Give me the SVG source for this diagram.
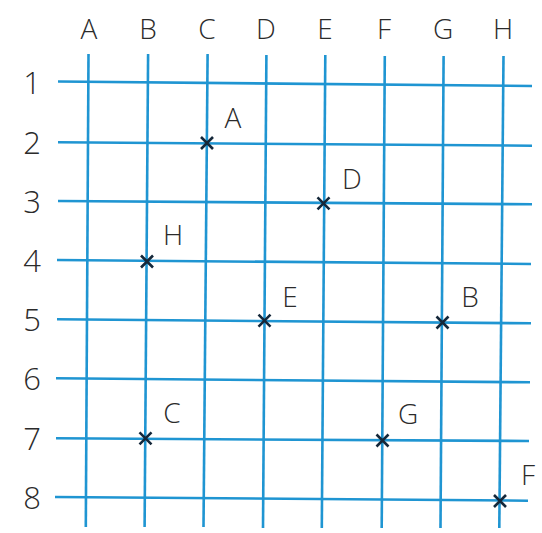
<svg xmlns="http://www.w3.org/2000/svg" width="542" height="533" viewBox="0 0 542 533">
<style>
.grid line{stroke:#1f95d2;stroke-width:2.6;stroke-linecap:butt}
.mk path{stroke:#15283a;stroke-width:2.6;fill:none;stroke-linecap:round}
text{font-family:"Open Sans","Liberation Sans",sans-serif;font-weight:300;fill:#2b2b2b;text-anchor:middle}
.col{font-size:28px}
.row{font-size:31px}
.pt{font-size:28px}
</style>
<defs>
<path id="x" d="M-6,-6L6,6M-6,6L6,-6"/>
</defs>
<rect width="542" height="533" fill="#ffffff"/>
<g id="connectors" class="grid">
<line x1="58" y1="81.5" x2="532" y2="86"/>
<line x1="58" y1="142.3" x2="532" y2="145.7"/>
<line x1="58" y1="201" x2="532" y2="204.3"/>
<line x1="57" y1="260" x2="531" y2="264"/>
<line x1="57" y1="319.3" x2="531" y2="323.3"/>
<line x1="56" y1="378.3" x2="530" y2="382.3"/>
<line x1="56" y1="438.3" x2="529" y2="441"/>
<line x1="55" y1="497" x2="528" y2="500.7"/>
<line x1="88.5" y1="54" x2="85.8" y2="527"/>
<line x1="148.1" y1="54" x2="144.6" y2="527"/>
<line x1="207.6" y1="54" x2="203.5" y2="527"/>
<line x1="266.4" y1="55" x2="263" y2="528"/>
<line x1="325.3" y1="55" x2="321.8" y2="528"/>
<line x1="384.8" y1="56" x2="381.7" y2="528"/>
<line x1="443.6" y1="56" x2="440.5" y2="528"/>
<line x1="503.5" y1="56" x2="499.3" y2="528"/>
</g>
<g id="column-labels">
<text class="col" x="89" y="39">A</text>
<text class="col" x="148" y="39">B</text>
<text class="col" x="207" y="39">C</text>
<text class="col" x="266" y="39">D</text>
<text class="col" x="325" y="39">E</text>
<text class="col" x="384" y="39">F</text>
<text class="col" x="443" y="39">G</text>
<text class="col" x="503" y="39">H</text>
</g>
<g id="row-labels">
<text class="row" x="32" y="94">1</text>
<text class="row" x="32" y="154">2</text>
<text class="row" x="32" y="213">3</text>
<text class="row" x="32" y="272">4</text>
<text class="row" x="32" y="331">5</text>
<text class="row" x="32" y="390">6</text>
<text class="row" x="32" y="450">7</text>
<text class="row" x="32" y="509">8</text>
</g>
<g id="point-A" class="mk"><use href="#x" x="207" y="143" stroke="#15283a" stroke-width="2.6"/><text class="pt" x="233" y="128">A</text></g>
<g id="point-B" class="mk"><use href="#x" x="442.5" y="322.5" stroke="#15283a" stroke-width="2.6"/><text class="pt" x="470" y="307">B</text></g>
<g id="point-C" class="mk"><use href="#x" x="145.5" y="438.3" stroke="#15283a" stroke-width="2.6"/><text class="pt" x="172" y="423">C</text></g>
<g id="point-D" class="mk"><use href="#x" x="323.5" y="203.3" stroke="#15283a" stroke-width="2.6"/><text class="pt" x="352" y="189">D</text></g>
<g id="point-E" class="mk"><use href="#x" x="264.5" y="320.7" stroke="#15283a" stroke-width="2.6"/><text class="pt" x="290" y="307">E</text></g>
<g id="point-F" class="mk"><use href="#x" x="500" y="501" stroke="#15283a" stroke-width="2.6"/><text class="pt" x="528" y="485">F</text></g>
<g id="point-G" class="mk"><use href="#x" x="382.5" y="440.5" stroke="#15283a" stroke-width="2.6"/><text class="pt" x="408" y="424">G</text></g>
<g id="point-H" class="mk"><use href="#x" x="147" y="261.5" stroke="#15283a" stroke-width="2.6"/><text class="pt" x="173" y="245">H</text></g>
</svg>
